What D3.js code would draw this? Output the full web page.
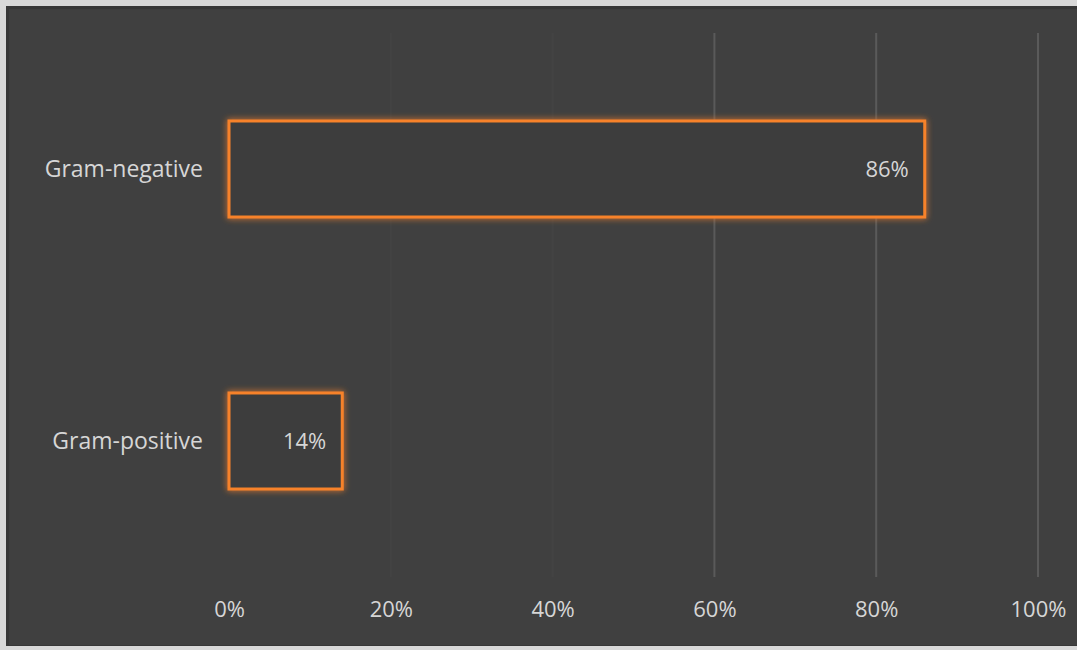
<!DOCTYPE html>
<html>
<head>
<meta charset="utf-8">
<script src="https://cdn.jsdelivr.net/npm/d3@7"></script>
<style>
html,body{margin:0;padding:0;background:#d8d8d8;}
svg{display:block;}
</style>
</head>
<body>
<svg id="chart" width="1077" height="650"></svg>
<script>
const categories = ["Gram-negative", "Gram-positive"];
const values = [86, 14];
const tickValues = [0, 20, 40, 60, 80, 100];
const tickLabels = ["0%", "20%", "40%", "60%", "80%", "100%"];

const W = 1077, H = 650;
const svg = d3.select("#chart");

// outer frame (light border of the screenshot) and dark chart area
svg.append("rect").attr("x", 0).attr("y", 0).attr("width", W).attr("height", H).attr("fill", "#d9d9d9");
svg.append("rect").attr("x", 6).attr("y", 6).attr("width", W - 6).attr("height", H - 10).attr("fill", "#383838");
svg.append("rect").attr("x", 9).attr("y", 9).attr("width", W - 9).attr("height", H - 14).attr("fill", "#404040");

const defs = svg.append("defs");
const glow = defs.append("filter").attr("id", "glow").attr("x", "-10%").attr("y", "-30%").attr("width", "120%").attr("height", "160%");
glow.append("feGaussianBlur").attr("in", "SourceGraphic").attr("stdDeviation", 3).attr("result", "b");
const merge = glow.append("feMerge");
merge.append("feMergeNode").attr("in", "b");
merge.append("feMergeNode").attr("in", "SourceGraphic");

const x = d3.scaleLinear().domain([0, 100]).range([229, 1038]);
const y = d3.scaleBand().domain(categories).range([33, 577]).paddingInner(0.647).paddingOuter(0.3235);

const font = "'Open Sans', 'DejaVu Sans', sans-serif";

// gridlines
svg.append("g")
  .selectAll("line")
  .data(tickValues.filter(d => d > 0))
  .join("line")
  .attr("x1", d => x(d)).attr("x2", d => x(d))
  .attr("y1", 33).attr("y2", 577)
  .attr("stroke", d => d >= 60 ? "#5a5a5a" : "#434343")
  .attr("stroke-width", 2);

// x axis labels
const xAxis = d3.axisBottom(x).tickValues(tickValues).tickFormat((d, i) => tickLabels[i]).tickSize(0).tickPadding(0);
const gx = svg.append("g").attr("transform", "translate(0,599)").call(xAxis);
gx.select(".domain").remove();
gx.selectAll("text").attr("fill", "#d6d6d6").style("font-family", font).style("font-size", "22px").attr("dy", "0.82em");

// y axis labels
const yAxis = d3.axisLeft(y).tickSize(0).tickPadding(0);
const gy = svg.append("g").attr("transform", "translate(203,0)").call(yAxis);
gy.select(".domain").remove();
gy.selectAll("text").attr("fill", "#d6d6d6").style("font-family", font).style("font-size", "23px").attr("dy", "0.35em");

// bars
const data = categories.map((c, i) => ({c, v: values[i]}));
svg.append("g")
  .selectAll("rect")
  .data(data)
  .join("rect")
  .attr("x", x(0))
  .attr("y", d => y(d.c))
  .attr("width", d => x(d.v) - x(0))
  .attr("height", y.bandwidth())
  .attr("fill", "#3e3e3e")
  .attr("stroke", "#f7822a")
  .attr("stroke-width", 3)
  .attr("filter", "url(#glow)");

// value labels
svg.append("g")
  .selectAll("text")
  .data(data)
  .join("text")
  .attr("x", d => x(d.v) - 16)
  .attr("y", d => y(d.c) + y.bandwidth() / 2)
  .attr("dy", "0.35em")
  .attr("text-anchor", "end")
  .attr("fill", "#d6d6d6")
  .style("font-family", font)
  .style("font-size", "22px")
  .text(d => d.v + "%");
</script>
</body>
</html>
